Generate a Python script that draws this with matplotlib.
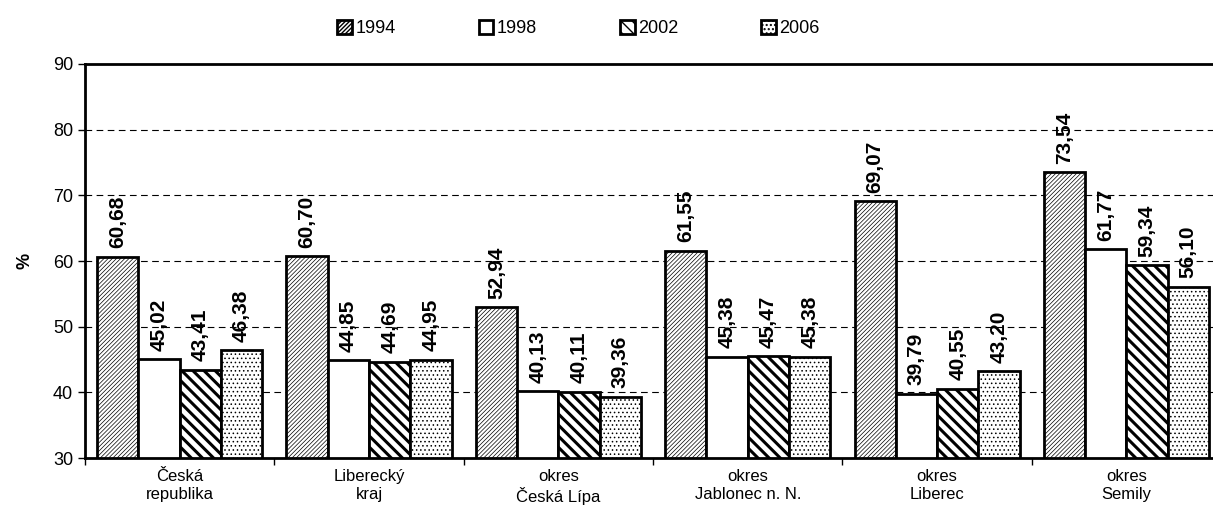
import numpy as np
import matplotlib
matplotlib.use("Agg")
import matplotlib.pyplot as plt

plt.rcParams['font.family'] = ['Liberation Sans', 'DejaVu Sans']

# -------------------------------------------------------------------
# DATA
# -------------------------------------------------------------------

categories = ["Česká\nrepublika", "Liberecký\nkraj", "okres\nČeská Lípa",
              "okres\nJablonec n. N.", "okres\nLiberec", "okres\nSemily"]
years = ["1994", "1998", "2002", "2006"]

v1994 = [60.68, 60.70, 52.94, 61.55, 69.07, 73.54]
v1998 = [45.02, 44.85, 40.13, 45.38, 39.79, 61.77]
v2002 = [43.41, 44.69, 40.11, 45.47, 40.55, 59.34]
v2006 = [46.38, 44.95, 39.36, 45.38, 43.20, 56.10]

series = [v1994, v1998, v2002, v2006]
hatches = ["////////", "", "\\\\\\", "...."]
hatch_lw = [0.5, 1.0, 2.2, 0.6]

# -------------------------------------------------------------------
# PLOT
# -------------------------------------------------------------------

fig = plt.figure(figsize=(12.13, 5.25), dpi=100)
# axes runs a bit past the right edge of the figure, as in the original
ax = fig.add_axes([0.0701, 0.1276, 0.9366, 0.7505])

x = np.arange(len(categories))
w = 0.218

for i, (vals, h) in enumerate(zip(series, hatches)):
    pos = x + (i - 1.5) * w
    with plt.rc_context({'hatch.linewidth': hatch_lw[i], 'hatch.color': 'black'}):
        bars = ax.bar(pos, [v - 30 for v in vals], bottom=30, width=w,
                      color='white', edgecolor='black', linewidth=2,
                      hatch=h, label=years[i], zorder=3)
    for b in bars:
        if hasattr(b, "set_hatch_linewidth"):
            b.set_hatch_linewidth(hatch_lw[i])
    for p, v in zip(pos, vals):
        ax.text(p, v + 1.3, f"{v:.2f}".replace(".", ","), rotation=90,
                ha='center', va='bottom', fontsize=15, fontweight='bold',
                zorder=4)

ax.set_xlim(-0.5, len(categories) - 0.5)
ax.set_ylim(30, 90)
ax.set_yticks(range(30, 91, 10))
ax.tick_params(axis='y', labelsize=13, length=5, width=1, direction='out')

ax.set_xticks(x)
ax.set_xticklabels(categories, fontsize=12)
ax.tick_params(axis='x', which='major', length=0, pad=8)
ax.set_xticks(np.arange(-0.5, len(categories), 1.0), minor=True)
ax.tick_params(axis='x', which='minor', length=5, width=1)

ax.yaxis.grid(True, linestyle=(0, (6, 4)), color='black', linewidth=0.8, zorder=0)
ax.set_axisbelow(True)

for s in ['left', 'top', 'bottom']:
    ax.spines[s].set_linewidth(2)
ax.spines['right'].set_visible(False)

ax.set_ylabel("%", fontsize=13, fontweight='bold', labelpad=14)

leg = fig.legend(loc='upper center', bbox_to_anchor=(0.477, 0.993), ncol=4,
                 frameon=False, fontsize=13, handlelength=0.8, handleheight=0.8,
                 handletextpad=0.2, columnspacing=4.6)

plt.savefig("out.png", dpi=100)
